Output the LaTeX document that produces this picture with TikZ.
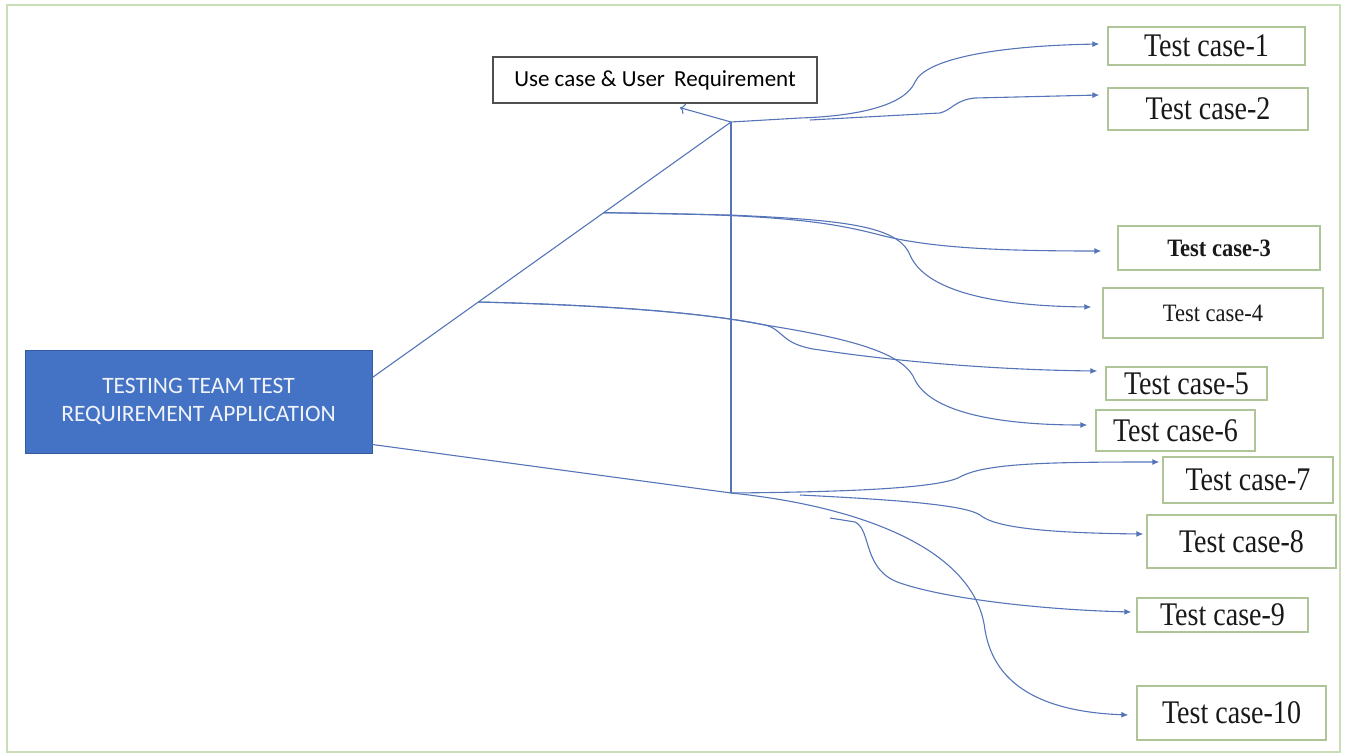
\documentclass[tikz,border=0pt]{standalone}
\usepackage{fontspec}
\setmainfont{Liberation Serif}
\newfontfamily\tcfont[FakeStretch=0.85]{Liberation Serif}
\newfontfamily\tcsmall[FakeStretch=0.9]{Liberation Serif}
\newfontfamily\calibri{Carlito}
\usetikzlibrary{arrows.meta,calc}
\definecolor{connc}{HTML}{5575B8}
\definecolor{mainblue}{HTML}{4472C4}
\definecolor{tcborder}{HTML}{AFC597}
\definecolor{framec}{HTML}{C9DDB6}
\definecolor{ucborder}{HTML}{505050}
\begin{document}
\begin{tikzpicture}[x=1pt,y=-1pt,
  tcbox/.style={draw=tcborder,line width=1.3pt,fill=white,inner sep=0pt,
    font=\tcfont\fontsize{33}{35}\selectfont,text=black!90},
  smalltc/.style={tcbox,font=\tcsmall\fontsize{25}{27}\selectfont},
  conn/.style={draw=connc,line width=1.1pt},
  tip/.style={-{Latex[length=7pt,width=6pt]}},
]
\useasboundingbox (0,0) rectangle (1347,755);
\draw[framec,line width=2pt] (7,5) rectangle (1340,752);

% nodes
\node[fill=mainblue,draw=mainblue!80!black,line width=0.8pt,minimum width=347pt,minimum height=103pt,
  align=center,text=white!92!mainblue,font=\calibri\fontsize{23.5}{28}\selectfont,inner sep=0pt]
  (main) at (198.5,401.5) {TESTING TEAM TEST\\REQUIREMENT APPLICATION};
\node[draw=ucborder,line width=1.3pt,fill=white,minimum width=324pt,minimum height=46pt,inner sep=0pt,
  font=\calibri\fontsize{23}{26}\selectfont] (uc) at (655,80) {Use case \& User\hspace{4pt} Requirement};

\node[tcbox,minimum width=197pt,minimum height=38pt] (t1) at (1206.5,46) {Test case-1};
\node[tcbox,minimum width=200pt,minimum height=42pt] (t2) at (1208,109) {Test case-2};
\node[smalltc,minimum width=202pt,minimum height=44pt,font=\tcsmall\bfseries\fontsize{25}{27}\selectfont] (t3) at (1219,248) {Test case-3};
\node[smalltc,minimum width=220pt,minimum height=50pt] (t4) at (1213,313) {Test case-4};
\node[tcbox,minimum width=161pt,minimum height=33pt] (t5) at (1186.5,383.5) {Test case-5};
\node[tcbox,minimum width=159pt,minimum height=41pt] (t6) at (1175.5,430.5) {Test case-6};
\node[tcbox,minimum width=170pt,minimum height=46pt] (t7) at (1248,480) {Test case-7};
\node[tcbox,minimum width=189pt,minimum height=53pt] (t8) at (1241.5,541.5) {Test case-8};
\node[tcbox,minimum width=171pt,minimum height=34pt] (t9) at (1222.5,615) {Test case-9};
\node[tcbox,minimum width=189pt,minimum height=54pt] (t10) at (1231.5,713) {Test case-10};

% junction coordinates
\coordinate (J) at (731,122);
\coordinate (K) at (731,493);
\coordinate (D0) at ([yshift=24pt]main.east);
\coordinate (L0) at ([yshift=-43pt]main.east);
\coordinate (A) at ($(D0)!0.645!(J)$);
\coordinate (B) at ($(D0)!0.2955!(J)$);
\coordinate (C2) at (810,120);
\coordinate (C8) at (800,495);
\coordinate (C9) at (830,518);

% trunk lines
\draw[conn] (D0) -- (J);
\draw[conn] (J) -- (K);
\draw[conn] (L0) -- (K);
\draw[conn,-{To[length=5pt,width=11pt]}] (J) -- ([xshift=25pt,yshift=-4pt]uc.south);

% test cases 1,2
\draw[conn,tip] (J) -- (800,118) .. controls (860,116) and (905,105) .. (915,82)
  .. controls (925,60) and (990,46) .. ([xshift=-8pt,yshift=2pt]t1.west);
\draw[conn,tip] (C2) -- (940,113) .. controls (952,110) and (955,100) .. (975,98)
  -- ([xshift=-8pt,yshift=14pt]t2.west);

% test cases 3,4
\draw[conn,tip] (A) .. controls (780,214) and (830,222) .. (880,235)
  .. controls (930,248) and (1000,251) .. ([xshift=-16pt,yshift=-3pt]t3.west);
\draw[conn,tip] (A) -- (730,215) .. controls (840,220) and (898,225) .. (910,255)
  .. controls (925,290) and (990,306) .. ([xshift=-11pt,yshift=6pt]t4.west);

% test cases 5,6
\draw[conn,tip] (B) .. controls (600,305) and (700,312) .. (765,325)
  .. controls (785,330) and (780,345) .. (820,350)
  .. controls (900,362) and (1000,370) .. ([xshift=-8pt,yshift=12.5pt]t5.west);
\draw[conn,tip] (B) .. controls (600,305) and (700,312) .. (765,325)
  .. controls (860,340) and (905,355) .. (915,380)
  .. controls (930,410) and (990,425) .. ([xshift=-8pt,yshift=5.5pt]t6.west);

% test cases 7-10
\draw[conn,tip] (K) .. controls (850,492) and (940,488) .. (960,477)
  .. controls (985,463) and (1050,462) .. ([xshift=-3pt,yshift=18pt]t7.west);
\draw[conn,tip] (C8) .. controls (900,500) and (965,505) .. (980,515)
  .. controls (995,528) and (1050,533) .. ([xshift=-3pt,yshift=7.5pt]t8.west);
\draw[conn,tip] (C9) -- (855,522) .. controls (872,530) and (862,570) .. (900,583)
  .. controls (950,600) and (1050,610) .. ([xshift=-5pt,yshift=3pt]t9.west);
\draw[conn,tip] (K) .. controls (850,505) and (975,545) .. (985,630)
  .. controls (995,690) and (1050,712) .. ([xshift=-8pt,yshift=-2pt]t10.west);
\end{tikzpicture}
\end{document}
